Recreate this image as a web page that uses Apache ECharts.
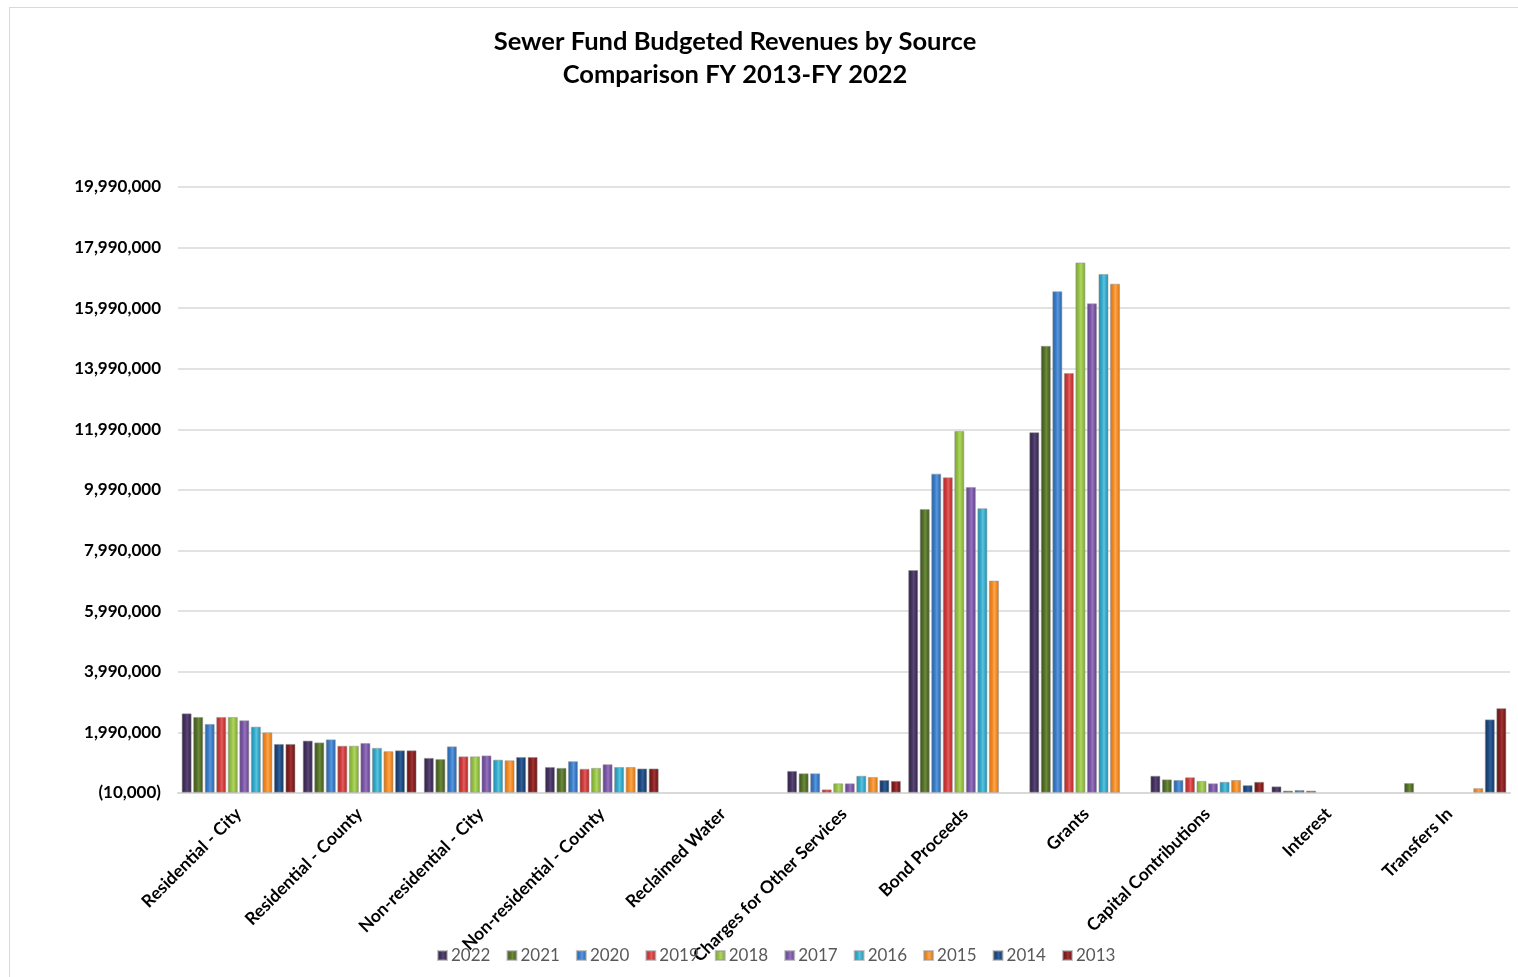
<!DOCTYPE html>
<html>
<head>
<meta charset="utf-8">
<title>Sewer Fund Budgeted Revenues by Source</title>
<script src="https://cdn.jsdelivr.net/npm/echarts@6/dist/echarts.min.js"></script>
<style>
  html, body { margin: 0; padding: 0; background: #ffffff; overflow: hidden; }
  #frame { position: absolute; left: 9px; top: 7px; width: 1530px; height: 990px; border: 1px solid #d9d9d9; box-sizing: border-box; }
  #chart { position: absolute; left: 0; top: 0; width: 1518px; height: 977px; }
</style>
</head>
<body>
<div id="frame"></div>
<div id="chart"></div>
<script>
// Revenue sources (x-axis categories)
const categories = [
  'Residential - City', 'Residential - County', 'Non-residential - City',
  'Non-residential - County', 'Reclaimed Water', 'Charges for Other Services',
  'Bond Proceeds', 'Grants', 'Capital Contributions', 'Interest', 'Transfers In'
];

// Fiscal years, one series each
const years = ['2022', '2021', '2020', '2019', '2018', '2017', '2016', '2015', '2014', '2013'];

// Budgeted revenue per source, in dollars
const fy2022 = [2620000, 1720000, 1150000, 850000, 0, 720000, 7350000, 11900000, 560000, 210000, 0];
const fy2021 = [2500000, 1660000, 1110000, 820000, 0, 640000, 9360000, 14750000, 440000, 70000, 320000];
const fy2020 = [2270000, 1760000, 1530000, 1040000, 0, 640000, 10530000, 16550000, 420000, 90000, 0];
const fy2019 = [2500000, 1550000, 1200000, 790000, 0, 110000, 10410000, 13850000, 510000, 70000, 0];
const fy2018 = [2500000, 1550000, 1200000, 820000, 0, 310000, 11940000, 17500000, 390000, 0, 0];
const fy2017 = [2390000, 1640000, 1230000, 940000, 0, 310000, 10090000, 16150000, 310000, 0, 0];
const fy2016 = [2180000, 1480000, 1090000, 850000, 0, 560000, 9390000, 17120000, 360000, 0, -40000];
const fy2015 = [1990000, 1370000, 1070000, 850000, 0, 520000, 7000000, 16800000, 420000, 0, 150000];
const fy2014 = [1610000, 1400000, 1180000, 800000, 0, 420000, 0, 0, 250000, 0, 2420000];
const fy2013 = [1610000, 1400000, 1180000, 800000, 0, 390000, 0, 0, 360000, 0, 2790000];

const seriesValues = [fy2022, fy2021, fy2020, fy2019, fy2018, fy2017, fy2016, fy2015, fy2014, fy2013];

// Value axis: ticks every 2,000,000 starting at -10,000
const yMin = -10000;
const yMax = 19990000;
const yStep = 2000000;

// Series colours: [edge, mid, highlight]
const palette = [
  ['#2e2140', '#44325f', '#5a4679'],
  ['#3b4d1c', '#55702a', '#6c8c3a'],
  ['#26609f', '#3a7cc8', '#5c97dc'],
  ['#a82a2a', '#d03a3a', '#e06060'],
  ['#78a032', '#96c243', '#b0d466'],
  ['#5d3f86', '#7b57a6', '#9674bd'],
  ['#1f8aa8', '#35aacb', '#5cc3de'],
  ['#d26f14', '#f48b24', '#f8a752'],
  ['#132f55', '#1f4a80', '#30619c'],
  ['#5e1414', '#861f1f', '#a33636']
];

function barFill(c) {
  return new echarts.graphic.LinearGradient(0, 0, 1, 0, [
    { offset: 0, color: c[0] },
    { offset: 0.35, color: c[1] },
    { offset: 0.55, color: c[2] },
    { offset: 0.75, color: c[1] },
    { offset: 1, color: c[0] }
  ]);
}

function fmtAxis(v) {
  const s = Math.abs(v).toLocaleString('en-US');
  return v < 0 ? '(' + s + ')' : s;
}

const FONT = 'Lato, "Open Sans", sans-serif';

const chart = echarts.init(document.getElementById('chart'), null, { renderer: 'canvas' });

// Empty (zero) bars get no outline so they vanish into the axis
const series = years.map((y, i) => ({
  name: y,
  type: 'bar',
  data: seriesValues[i].map(v => (v === 0 ? { value: 0, itemStyle: { borderWidth: 0, opacity: 0 } } : v)),
  barGap: '15%',
  barCategoryGap: '6%',
  itemStyle: {
    color: barFill(palette[i]),
    borderColor: 'rgba(150,150,150,0.55)',
    borderWidth: 1
  },
  emphasis: { disabled: true }
}));

chart.setOption({
  animation: false,
  backgroundColor: 'transparent',
  color: palette.map(c => c[1]),
  title: {
    text: 'Sewer Fund Budgeted Revenues by Source\nComparison FY 2013-FY 2022',
    left: 730,
    top: 20,
    textAlign: 'center',
    textStyle: {
      fontFamily: FONT,
      fontSize: 25.5,
      fontWeight: 'bold',
      color: '#000000',
      lineHeight: 33
    }
  },
  legend: {
    data: years,
    bottom: 8,
    left: 432,
    itemWidth: 9,
    itemHeight: 9,
    itemGap: 16,
    icon: 'rect',
    textStyle: {
      fontFamily: FONT,
      fontSize: 17,
      color: '#595959',
      padding: [0, 0, 0, -1]
    }
  },
  grid: {
    left: 178,
    right: 8,
    top: 187,
    bottom: 184,
    containLabel: false
  },
  xAxis: {
    type: 'category',
    data: categories,
    axisTick: { show: false },
    axisLine: { onZero: false, lineStyle: { color: '#d9d9d9', width: 2 } },
    axisLabel: {
      interval: 0,
      rotate: 45,
      margin: 18,
      fontFamily: FONT,
      fontSize: 17.5,
      fontWeight: 'bold',
      color: '#000000'
    }
  },
  yAxis: {
    type: 'value',
    min: yMin,
    max: yMax,
    interval: yStep,
    axisLine: { show: false },
    axisTick: { show: false },
    splitLine: { lineStyle: { color: '#d9d9d9', width: 1.5 } },
    axisLabel: {
      margin: 17,
      formatter: fmtAxis,
      fontFamily: FONT,
      fontSize: 17,
      fontWeight: 'bold',
      color: '#000000'
    }
  },
  series: series
});
</script>
</body>
</html>
